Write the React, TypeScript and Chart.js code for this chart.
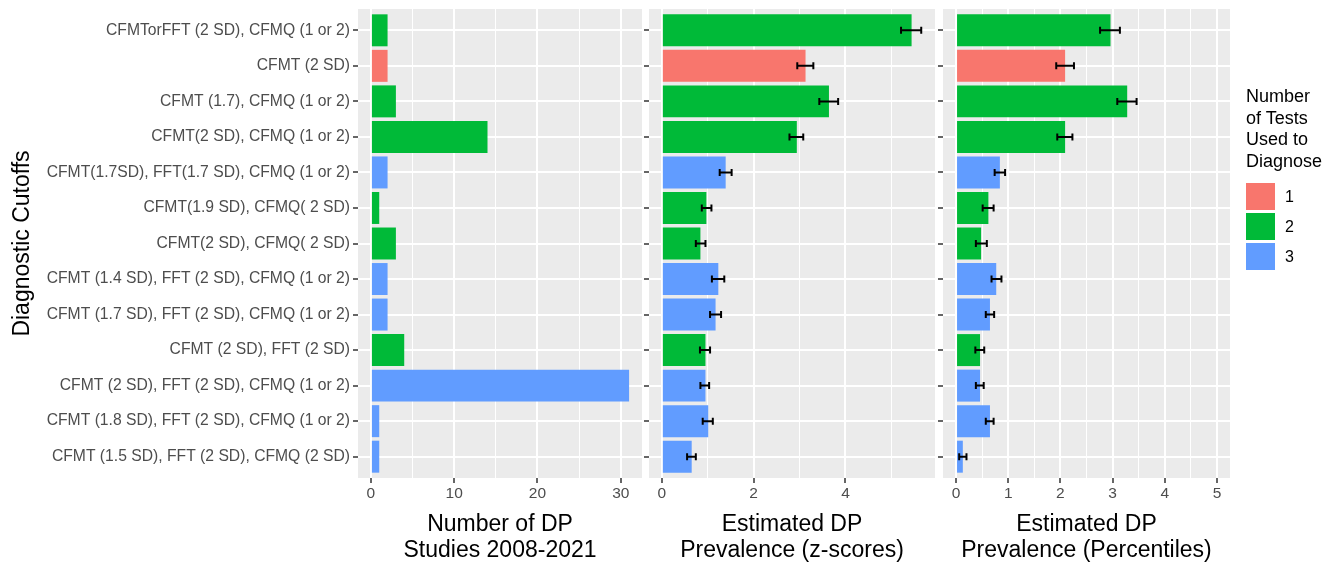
import React, { useEffect, useRef } from "react";
import { Chart, registerables } from "chart.js";

Chart.register(...registerables);

// ---- data (rows listed top to bottom) ----
const cutoffs = [
  "CFMTorFFT (2 SD), CFMQ (1 or 2)",
  "CFMT (2 SD)",
  "CFMT (1.7), CFMQ (1 or 2)",
  "CFMT(2 SD), CFMQ (1 or 2)",
  "CFMT(1.7SD), FFT(1.7 SD), CFMQ (1 or 2)",
  "CFMT(1.9 SD), CFMQ( 2 SD)",
  "CFMT(2 SD), CFMQ( 2 SD)",
  "CFMT (1.4 SD), FFT (2 SD), CFMQ (1 or 2)",
  "CFMT (1.7 SD), FFT (2 SD), CFMQ (1 or 2)",
  "CFMT (2 SD), FFT (2 SD)",
  "CFMT (2 SD), FFT (2 SD), CFMQ (1 or 2)",
  "CFMT (1.8 SD), FFT (2 SD), CFMQ (1 or 2)",
  "CFMT (1.5 SD), FFT (2 SD), CFMQ (2 SD)",
];
const testsUsed = [2, 1, 2, 2, 3, 2, 2, 3, 3, 2, 3, 3, 3];

const studyCounts = [2, 2, 3, 14, 2, 1, 3, 2, 2, 4, 31, 1, 1];

const zPrevalence = [5.44, 3.13, 3.64, 2.94, 1.39, 0.97, 0.84, 1.23, 1.17, 0.95, 0.95, 1.01, 0.65];
const zLow = [5.21, 2.95, 3.43, 2.78, 1.26, 0.87, 0.74, 1.09, 1.05, 0.83, 0.84, 0.89, 0.55];
const zHigh = [5.65, 3.3, 3.84, 3.08, 1.52, 1.08, 0.95, 1.36, 1.29, 1.05, 1.03, 1.11, 0.74];

const pctPrevalence = [2.96, 2.09, 3.28, 2.09, 0.84, 0.62, 0.48, 0.77, 0.65, 0.46, 0.46, 0.65, 0.13];
const pctLow = [2.76, 1.92, 3.09, 1.94, 0.74, 0.51, 0.38, 0.68, 0.57, 0.37, 0.38, 0.57, 0.06];
const pctHigh = [3.14, 2.26, 3.46, 2.23, 0.94, 0.72, 0.59, 0.87, 0.73, 0.54, 0.53, 0.72, 0.2];

const groupLevels = ["1", "2", "3"];
const groupColours = ["#F8766D", "#00BA38", "#619CFF"];

const countMajor = [0, 10, 20, 30];
const countMinor = [5, 15, 25];
const zMajor = [0, 2, 4];
const zMinor = [1, 3, 5];
const pctMajor = [0, 1, 2, 3, 4, 5];
const pctMinor = [0.5, 1.5, 2.5, 3.5, 4.5];

const yAxisTitle = "Diagnostic Cutoffs";
const countTitle = ["Number of DP", "Studies 2008-2021"];
const zTitle = ["Estimated DP", "Prevalence (z-scores)"];
const pctTitle = ["Estimated DP", "Prevalence (Percentiles)"];
const legendTitle = ["Number", "of Tests", "Used to", "Diagnose"];

// ---- layout ----
const PAGE_W = 1339;
const PAGE_H = 566;
const PANEL_TOP = 9;
const PANEL_BOTTOM = 478;
const FONT = "'Liberation Sans', Arial, Helvetica, sans-serif";
const AXIS_TEXT = "#4D4D4D";
const PANEL_BG = "#EBEBEB";
const TITLE_SIZE = 23;

type Panel = {
  values: number[];
  low?: number[];
  high?: number[];
  min: number;
  max: number;
  major: number[];
  minor: number[];
  title: string[];
  left: number;
  right: number;
  labelled: boolean;
};

const panelBackground = {
  id: "panelBackground",
  beforeDraw(chart: any) {
    const { ctx, chartArea } = chart;
    ctx.save();
    ctx.fillStyle = PANEL_BG;
    ctx.fillRect(chartArea.left, chartArea.top, chartArea.right - chartArea.left, chartArea.bottom - chartArea.top);
    ctx.restore();
  },
};

function errorBars(low: number[], high: number[]) {
  return {
    id: "errorBars",
    afterDatasetsDraw(chart: any) {
      const { ctx } = chart;
      const xs = chart.scales.x;
      const ys = chart.scales.y;
      ctx.save();
      ctx.strokeStyle = "#000000";
      ctx.lineWidth = 2;
      low.forEach((lo, i) => {
        const y = ys.getPixelForValue(i + 1);
        const x0 = xs.getPixelForValue(lo);
        const x1 = xs.getPixelForValue(high[i]);
        ctx.beginPath();
        ctx.moveTo(x0, y);
        ctx.lineTo(x1, y);
        ctx.moveTo(x0, y - 3.5);
        ctx.lineTo(x0, y + 3.5);
        ctx.moveTo(x1, y - 3.5);
        ctx.lineTo(x1, y + 3.5);
        ctx.stroke();
      });
      ctx.restore();
    },
  };
}

function buildPanel(canvas: HTMLCanvasElement, p: Panel) {
  const isMajor = (v: number) => p.major.includes(v);
  const plugins: any[] = [panelBackground];
  if (p.low && p.high) plugins.push(errorBars(p.low, p.high));

  return new Chart(canvas, {
    type: "bar",
    data: {
      datasets: [
        {
          data: p.values.map((v, i) => ({ x: v, y: i + 1 })),
          backgroundColor: p.values.map((_, i) => groupColours[testsUsed[i] - 1]),
          borderWidth: 0,
          barPercentage: 0.9,
          categoryPercentage: 1,
        },
      ],
    },
    options: {
      indexAxis: "y",
      responsive: false,
      animation: false,
      layout: { padding: { left: 0, top: PANEL_TOP, right: PAGE_W - p.right, bottom: 0 } },
      plugins: { legend: { display: false }, tooltip: { enabled: false } },
      scales: {
        x: {
          type: "linear",
          position: "bottom",
          offset: false,
          min: p.min,
          max: p.max,
          afterBuildTicks: (s: any) => {
            s.ticks = [...p.major, ...p.minor].sort((a, b) => a - b).map((v) => ({ value: v }));
          },
          afterFit: (s: any) => {
            s.height = PAGE_H - PANEL_BOTTOM;
            s.paddingLeft = 0;
            s.paddingRight = 0;
          },
          border: { display: false },
          grid: {
            offset: false,
            color: "#FFFFFF",
            lineWidth: (c: any) => (c.tick && isMajor(c.tick.value) ? 2 : 1),
            drawTicks: true,
            tickLength: 5,
            tickWidth: 1.5,
            tickColor: (c: any) => (c.tick && isMajor(c.tick.value) ? "#333333" : "rgba(0,0,0,0)"),
          },
          ticks: {
            autoSkip: false,
            maxRotation: 0,
            padding: 1.5,
            color: AXIS_TEXT,
            font: { family: FONT, size: 15.5 },
            callback: (v: any) => (isMajor(Number(v)) ? String(v) : ""),
          },
          title: {
            display: true,
            text: p.title,
            color: "#000000",
            font: { family: FONT, size: TITLE_SIZE, lineHeight: 26 / TITLE_SIZE },
            padding: { top: 0, bottom: 2 },
          },
        },
        y: {
          type: "linear",
          position: "left",
          offset: false,
          reverse: true,
          min: 0.4,
          max: cutoffs.length + 0.6,
          afterBuildTicks: (s: any) => {
            s.ticks = cutoffs.map((_, i) => ({ value: i + 1 }));
          },
          afterFit: (s: any) => {
            s.width = p.left;
            s.paddingTop = 0;
            s.paddingBottom = 0;
          },
          border: { display: false },
          grid: {
            offset: false,
            color: "#FFFFFF",
            lineWidth: 2,
            drawTicks: true,
            tickLength: 5,
            tickWidth: 1.5,
            tickColor: "#333333",
          },
          ticks: {
            display: p.labelled,
            autoSkip: false,
            padding: 3,
            color: AXIS_TEXT,
            font: { family: FONT, size: 15.7 },
            callback: (v: any) => cutoffs[Number(v) - 1] ?? "",
          },
          title: {
            display: p.labelled,
            text: yAxisTitle,
            color: "#000000",
            font: { family: FONT, size: TITLE_SIZE, lineHeight: 26 / TITLE_SIZE },
            padding: { top: 10, bottom: 0 },
          },
        },
      },
    } as any,
    plugins,
  });
}

const panels: Panel[] = [
  {
    values: studyCounts,
    min: -1.55,
    max: 32.55,
    major: countMajor,
    minor: countMinor,
    title: countTitle,
    left: 358,
    right: 642,
    labelled: true,
  },
  {
    values: zPrevalence,
    low: zLow,
    high: zHigh,
    min: -0.28,
    max: 5.95,
    major: zMajor,
    minor: zMinor,
    title: zTitle,
    left: 649,
    right: 935,
    labelled: false,
  },
  {
    values: pctPrevalence,
    low: pctLow,
    high: pctHigh,
    min: -0.25,
    max: 5.25,
    major: pctMajor,
    minor: pctMinor,
    title: pctTitle,
    left: 943,
    right: 1230,
    labelled: false,
  },
];

function Legend() {
  return (
    <div style={{ position: "absolute", left: 1246, top: 0, fontFamily: FONT, color: "#000" }}>
      <div style={{ position: "absolute", top: 86, left: 0, fontSize: 18, lineHeight: "21.7px", whiteSpace: "nowrap" }}>
        {legendTitle.map((t) => (
          <div key={t}>{t}</div>
        ))}
      </div>
      {groupLevels.map((g, i) => (
        <div key={g} style={{ position: "absolute", top: 183 + i * 30, left: 0, width: 80, height: 27 }}>
          <div style={{ position: "absolute", left: 0, top: 0, width: 29, height: 27, background: groupColours[i] }} />
          <div style={{ position: "absolute", left: 39, top: 0, height: 27, lineHeight: "27px", fontSize: 16 }}>{g}</div>
        </div>
      ))}
    </div>
  );
}

export default function App() {
  const refs = [useRef<HTMLCanvasElement>(null), useRef<HTMLCanvasElement>(null), useRef<HTMLCanvasElement>(null)];

  useEffect(() => {
    document.body.style.margin = "0";
    const charts = panels.map((p, i) => buildPanel(refs[i].current as HTMLCanvasElement, p));
    return () => charts.forEach((c) => c.destroy());
  }, []);

  return (
    <div style={{ position: "absolute", left: 0, top: 0, width: PAGE_W, height: PAGE_H, background: "#FFFFFF", overflow: "hidden" }}>
      {refs.map((r, i) => (
        <canvas
          key={i}
          ref={r}
          width={PAGE_W}
          height={PAGE_H}
          style={{ position: "absolute", left: 0, top: 0, width: PAGE_W, height: PAGE_H }}
        />
      ))}
      <Legend />
    </div>
  );
}
